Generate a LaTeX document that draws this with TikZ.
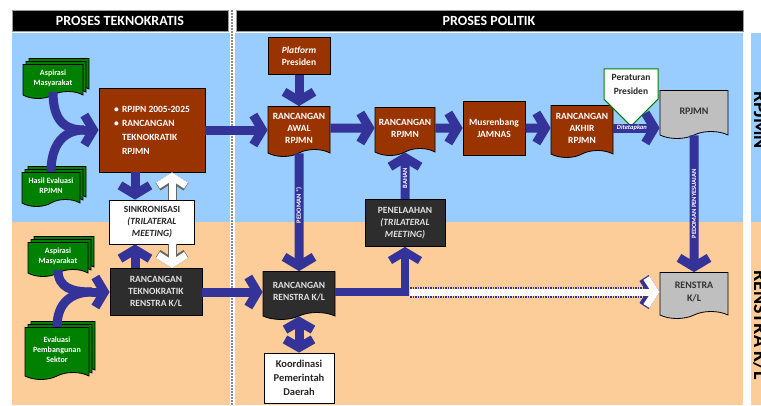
\documentclass[tikz,border=0pt]{standalone}
\usepackage{fontspec}
\setmainfont{Carlito}
\usetikzlibrary{shapes.symbols,shadows,arrows.meta}
\definecolor{skyblue}{RGB}{153,204,255}
\definecolor{peach}{RGB}{252,204,153}
\definecolor{brick}{RGB}{153,51,0}
\definecolor{coal}{RGB}{45,45,45}
\definecolor{leaf}{RGB}{0,128,0}
\definecolor{ink}{RGB}{51,51,153}
\definecolor{stone}{RGB}{191,191,191}
\tikzset{
  box/.style={draw=black, line width=0.8pt, align=center, inner sep=1pt, font=\bfseries\fontsize{9.5}{12}\selectfont},
  brickbox/.style={box, fill=brick, text=white},
  coalbox/.style={box, fill=coal, text=black!12},
  whitebox/.style={box, fill=white, text=black!85},
  doc/.style={tape, tape bend top=none, tape bend height=7pt},
  leafdoc/.style={box, doc, fill=leaf, text=white, font=\bfseries\fontsize{8}{10}\selectfont, double copy shadow={shadow xshift=3pt, shadow yshift=3pt}},
  stonedoc/.style={box, doc, fill=stone, text=black!80, font=\bfseries\fontsize{10}{13}\selectfont},
  header/.style={text=white, font=\bfseries\fontsize{14}{16}\selectfont},
  sidetag/.style={text=black, font=\bfseries\fontsize{20}{22}\selectfont, inner sep=0pt},
  arrowtag/.style={text=white, inner sep=0pt, font=\bfseries\fontsize{6.5}{7}\selectfont},
  flowbody/.style={draw=ink, line width=9pt},
  flow/.style={flowbody, -{Straight Barb[length=9pt, width=30pt]}},
  flowboth/.style={flowbody, {Straight Barb[length=8pt, width=28pt]}-{Straight Barb[length=8pt, width=28pt]}},
  hollow/.style={draw=white, line width=7pt, -{Straight Barb[length=9pt, width=28pt]},
    preaction={draw=black!60, line width=9pt, -{Straight Barb[length=9pt, width=28pt]}}},
  dotflow/.style={draw=white, line width=7pt, -{Straight Barb[length=9pt, width=28pt]},
    preaction={draw=ink, line width=11pt, dash pattern=on 1.5pt off 1pt, -{Straight Barb[length=9pt, width=28pt]}}},
  perpres/.style={signal, signal to=south, signal from=nothing, draw=leaf, line width=1pt, fill=white,
    text=black!85, align=center, font=\bfseries\fontsize{9.5}{14}\selectfont, minimum width=54pt, inner xsep=1pt, inner ysep=5pt}
}
\begin{document}
\begin{tikzpicture}[x=1pt, y=-1pt]
\useasboundingbox (0,0) rectangle (761,405);
\clip (0,0) rectangle (761,405);
\fill[white] (0,0) rectangle (761,405);
\fill[skyblue] (12,33) rectangle (743,222);
\fill[peach] (12,222) rectangle (743,405);
\fill[skyblue] (751,33) rectangle (761,222);
\fill[peach] (751,222) rectangle (761,405);
\draw[black!40, fill=black] (12,10) rectangle (228,31);
\draw[black!40, fill=black] (236,10) rectangle (743,31);
\node[header] (hteknis) at (120,20.5) {PROSES TEKNOKRATIS};
\node[header] (hpolitik) at (489,20.5) {PROSES POLITIK};
\draw[white, line width=5pt] (232,10) -- (232,405);
\draw[black!45, line width=1.5pt, dash pattern=on 1.5pt off 1.5pt] (232,10) -- (232,405);
\node[sidetag, rotate=-90, anchor=base] (srpjmn) at (754,120) {RPJMN};
\node[sidetag, rotate=-90, anchor=base] (srenstra) at (754,325) {RENSTRA K/L};

\node[leafdoc, minimum width=60pt, minimum height=34pt] (aspA) at (53,78) {Aspirasi\\Masyarakat};
\node[leafdoc, minimum width=58pt, minimum height=34pt] (hasil) at (51,186) {Hasil Evaluasi\\RPJMN};
\node[leafdoc, minimum width=60pt, minimum height=34pt] (aspB) at (58,256) {Aspirasi\\Masyarakat};
\node[leafdoc, minimum width=64pt, minimum height=52pt] (evsek) at (57,350) {Evaluasi\\Pembangunan\\Sektor};
\node[brickbox, minimum width=106pt, minimum height=84pt, align=left, font=\bfseries\fontsize{9.5}{14}\selectfont] (rpjpn) at (152,130)
  {\makebox[8pt][l]{\textbullet}RPJPN 2005-2025\\\makebox[8pt][l]{\textbullet}RANCANGAN\\\hspace*{8pt}TEKNOKRATIK\\\hspace*{8pt}RPJMN};
\node[whitebox, minimum width=85pt, minimum height=44pt] (sink) at (152,222) {SINKRONISASI\\\textit{(TRILATERAL}\\\textit{MEETING)}};
\node[coalbox, minimum width=92pt, minimum height=47pt] (tekren) at (156,292) {RANCANGAN\\TEKNOKRATIK\\RENSTRA K/L};
\node[brickbox, minimum width=62pt, minimum height=37pt] (platform) at (299,56) {\textit{Platform}\\Presiden};
\node[brickbox, doc, minimum width=62pt, minimum height=50pt] (awal) at (299,128) {RANCANGAN\\AWAL\\RPJMN};
\node[brickbox, doc, minimum width=60pt, minimum height=48pt] (rrpjmn) at (405,128) {RANCANGAN\\RPJMN};
\node[brickbox, minimum width=62pt, minimum height=54pt] (musren) at (494,128) {Musrenbang\\JAMNAS};
\node[brickbox, doc, minimum width=62pt, minimum height=52pt] (akhir) at (582,128) {RANCANGAN\\AKHIR\\RPJMN};
\node[perpres] (perpres) at (631,84) {Peraturan\\Presiden};
\node[stonedoc, minimum width=68pt, minimum height=48pt] (rpjmn) at (694,111) {RPJMN};
\node[coalbox, minimum width=80pt, minimum height=47pt] (telaah) at (405,223) {PENELAAHAN\\\textit{(TRILATERAL}\\\textit{MEETING)}};
\node[coalbox, doc, minimum width=72pt, minimum height=48pt] (renkl) at (299,292) {RANCANGAN\\RENSTRA K/L};
\node[whitebox, minimum width=70pt, minimum height=50pt, font=\bfseries\fontsize{10.5}{14}\selectfont] (koord) at (299,378) {Koordinasi\\Pemerintah\\Daerah};
\node[stonedoc, minimum width=68pt, minimum height=46pt] (renstra) at (694,292) {RENSTRA\\K/L};

\coordinate (joinA) at (84,130);
\coordinate (joinB) at (92,292);
\coordinate (dotstart) at (410,292);
\draw[flowbody] (aspA.south) .. controls +(0,28) and +(-20,0) .. (joinA);
\draw[flowbody] (hasil.north) .. controls +(0,-28) and +(-20,0) .. (joinA);
\draw[flow] (joinA) -- (rpjpn.west);
\draw[flowbody] (aspB.south) .. controls +(0,18) and +(-20,0) .. (joinB);
\draw[flowbody] (evsek.north) .. controls +(0,-25) and +(-20,0) .. (joinB);
\draw[flow] (joinB) -- (tekren.west);
\draw[flow] (135,0 |- rpjpn.south) -- (135,0 |- sink.north);
\draw[hollow] (172,0 |- sink.north) -- (172,0 |- rpjpn.south);
\draw[flow] (135,0 |- tekren.north) -- (135,0 |- sink.south);
\draw[hollow] (172,0 |- sink.south) -- (172,0 |- tekren.north);
\draw[flow] (rpjpn.east) -- (rpjpn.east -| awal.west);
\draw[flow] (tekren.east) -- (tekren.east -| renkl.west);
\draw[flow] (platform) -- (awal);
\draw[flow] (awal) -- (rrpjmn);
\draw[flow] (rrpjmn) -- (musren);
\draw[flow] (musren) -- (akhir);
\draw[flow] (akhir.east) -- (akhir.east -| rpjmn.west) node[pos=0.4, arrowtag, font=\bfseries\itshape\fontsize{6.5}{7}\selectfont] {Ditetapkan};
\draw[flow] (awal) -- (renkl) node[pos=0.44, arrowtag, rotate=90] {PEDOMAN *)};
\draw[flowboth] (renkl) -- (koord);
\draw[flow, line width=8pt] (renkl.east) -| (telaah.south);
\draw[flow] (telaah) -- (rrpjmn) node[pos=0.45, arrowtag, rotate=90] {BAHAN};
\draw[dotflow] (dotstart) -- (dotstart -| renstra.west);
\draw[flow] (rpjmn) -- (renstra) node[midway, arrowtag, rotate=90] {PEDOMAN PENYESUAIAN};
\end{tikzpicture}
\end{document}
